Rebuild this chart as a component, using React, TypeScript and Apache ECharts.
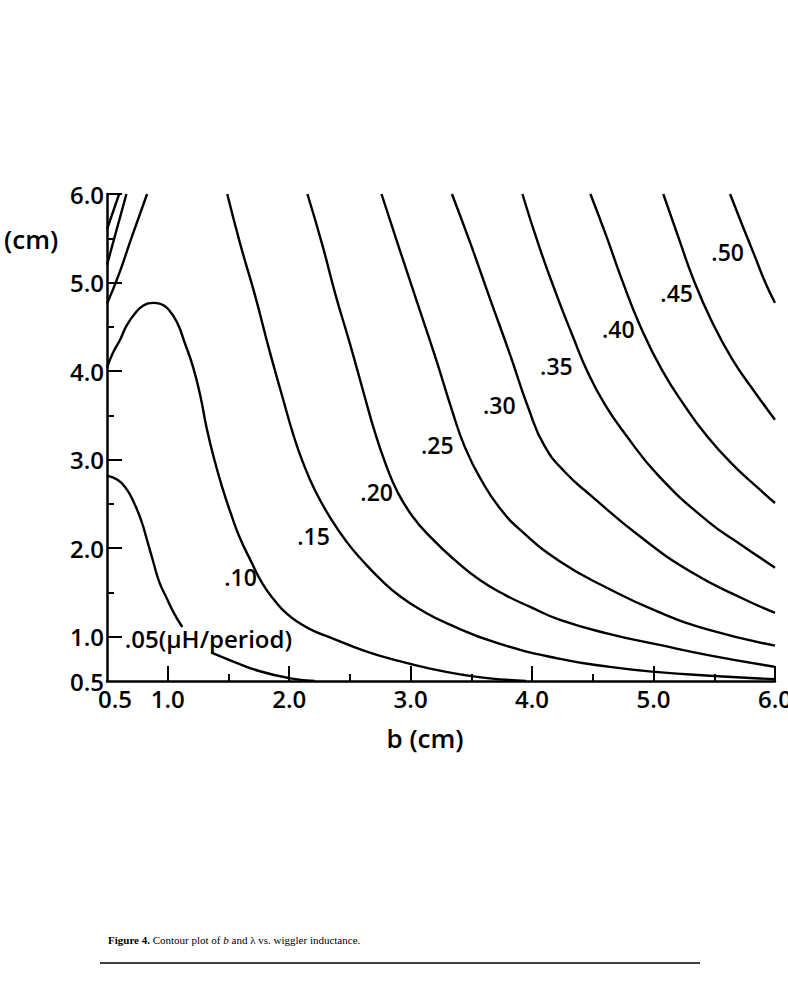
import React, { useEffect, useRef } from 'react';
import * as echarts from 'echarts';

// Axis ranges and ticks
const bMin = 0.5;
const bMax = 6.0;
const lMin = 0.5;
const lMax = 6.0;
const xMajorTicks = [1, 2, 3, 4, 5, 6];
const xMinorTicks = [1.5, 2.5, 3.5, 4.5, 5.5];
const xTickLabels = [0.5, 1, 2, 3, 4, 5, 6];
const yMajorTicks = [1, 2, 3, 4, 5, 6];
const yMinorTicks = [1.5, 2.5, 3.5, 4.5, 5.5];
const yTickLabels = [0.5, 1, 2, 3, 4, 5, 6];

// Contour lines: [b (cm), lambda (cm)]
const contour05Upper = [[0.5, 2.82], [0.59, 2.77], [0.66, 2.67], [0.72, 2.52], [0.78, 2.32], [0.83, 2.09], [0.88, 1.85], [0.93, 1.62], [0.99, 1.44], [1.05, 1.27], [1.12, 1.11]];
const contour05Lower = [[1.36, 0.82], [1.54, 0.72], [1.76, 0.61], [2.01, 0.53], [2.21, 0.5]];
const contour10 = [[0.5, 4.04], [0.55, 4.21], [0.61, 4.36], [0.66, 4.51], [0.73, 4.65], [0.8, 4.74], [0.88, 4.77], [0.94, 4.76], [1.01, 4.69], [1.08, 4.54], [1.14, 4.32], [1.21, 4.04], [1.27, 3.71], [1.32, 3.36], [1.38, 3.02], [1.45, 2.68], [1.52, 2.39], [1.59, 2.13], [1.69, 1.84], [1.78, 1.60], [1.88, 1.41], [1.98, 1.26], [2.09, 1.15], [2.21, 1.06], [2.34, 0.99], [2.62, 0.84], [2.89, 0.73], [3.16, 0.64], [3.43, 0.57], [3.65, 0.53], [3.95, 0.5]];
const contour15 = [[1.49, 6.0], [1.60, 5.42], [1.72, 4.85], [1.83, 4.27], [1.94, 3.73], [2.03, 3.30], [2.11, 2.98], [2.21, 2.66], [2.34, 2.34], [2.48, 2.06], [2.61, 1.85], [2.75, 1.65], [2.91, 1.46], [3.10, 1.29], [3.30, 1.15], [3.71, 0.93], [4.23, 0.75], [4.64, 0.66], [5.04, 0.60], [5.46, 0.56], [6.0, 0.52]];
const contour20 = [[2.15, 6.0], [2.27, 5.44], [2.38, 4.87], [2.5, 4.31], [2.61, 3.77], [2.71, 3.29], [2.80, 2.93], [2.89, 2.64], [3.01, 2.37], [3.16, 2.13], [3.36, 1.87], [3.57, 1.64], [3.78, 1.47], [3.98, 1.34], [4.23, 1.19], [4.64, 1.03], [5.04, 0.91], [5.46, 0.79], [6.0, 0.66]];
const contour25 = [[2.76, 6.0], [2.91, 5.37], [3.06, 4.75], [3.21, 4.13], [3.34, 3.56], [3.45, 3.13], [3.59, 2.75], [3.73, 2.46], [3.90, 2.21], [4.23, 1.85], [4.62, 1.55], [5.04, 1.28], [5.45, 1.08], [6.0, 0.90]];
const contour30 = [[3.34, 6.0], [3.49, 5.45], [3.65, 4.83], [3.82, 4.18], [3.97, 3.58], [4.10, 3.16], [4.27, 2.86], [4.48, 2.60], [4.90, 2.12], [5.31, 1.73], [5.72, 1.44], [6.0, 1.27]];
const contour35 = [[3.92, 6.0], [4.06, 5.40], [4.21, 4.83], [4.33, 4.41], [4.46, 3.98], [4.60, 3.62], [4.76, 3.30], [5.04, 2.82], [5.45, 2.30], [5.72, 2.04], [6.0, 1.78]];
const contour40 = [[4.48, 6.0], [4.61, 5.53], [4.74, 5.03], [4.89, 4.51], [5.07, 4.01], [5.27, 3.58], [5.42, 3.30], [5.64, 2.96], [5.86, 2.68], [6.0, 2.51]];
const contour45 = [[5.08, 6.0], [5.20, 5.53], [5.33, 5.03], [5.48, 4.56], [5.65, 4.13], [5.83, 3.77], [6.0, 3.45]];
const contour50 = [[5.63, 6.0], [5.73, 5.65], [5.83, 5.31], [5.92, 5.0], [6.0, 4.77]];
const cornerA = [[0.5, 5.6], [0.6, 6.0]];
const cornerB = [[0.5, 5.2], [0.58, 5.6], [0.66, 6.0]];
const cornerC = [[0.5, 4.76], [0.6, 5.1], [0.7, 5.5], [0.83, 6.0]];

const contourLines = [contour05Upper, contour05Lower, contour10, contour15, contour20, contour25, contour30, contour35, contour40, contour45, contour50, cornerA, cornerB, cornerC];

// Contour labels
const labelTexts = ['.05(\u03bcH/period)', '.10', '.15', '.20', '.25', '.30', '.35', '.40', '.45', '.50'];
const labelB = [0.67, 1.60, 2.20, 2.72, 3.22, 3.73, 4.20, 4.71, 5.19, 5.61];
const labelL = [0.98, 1.67, 2.14, 2.63, 3.16, 3.62, 4.06, 4.48, 4.88, 5.35];

const FONT = "'Open Sans', 'Noto Sans', sans-serif";
const INK = '#000';

export default function App() {
  const ref = useRef<HTMLDivElement>(null);
  useEffect(() => {
    if (!ref.current) return;
    const chart = echarts.init(ref.current, null, { renderer: 'svg' });

    const lineSeries = contourLines.map((d, i) => ({
      type: 'line',
      name: 'c' + i,
      data: d,
      smooth: 0.5,
      symbol: 'none',
      lineStyle: { color: INK, width: 2.4 },
      xAxisIndex: 0,
      yAxisIndex: 0,
      silent: true,
      z: 3,
    }));

    const labelData = labelTexts.map((t, i) => ({
      value: [labelB[i], labelL[i]],
      name: t,
      label: {
        show: true,
        formatter: t,
        position: 'right',
        distance: 0,
        align: i === 0 ? 'left' : 'center',
        verticalAlign: 'middle',
        offset: i === 0 ? [-3, 0] : [0, 0],
        fontSize: i === 0 ? 24 : 23,
        color: INK,
        opacity: 1,
        textBorderWidth: 0,
        fontWeight: 600,
      },
    }));

    const option = {
      animation: false,
      backgroundColor: '#ffffff',
      grid: { left: 107, right: 13, top: 194, bottom: 320, containLabel: false, outerBoundsMode: 'none' },
      xAxis: [
        {
          type: 'value',
          min: bMin,
          max: bMax,
          axisLine: { show: true, onZero: false, lineStyle: { color: INK, width: 2.5 } },
          axisTick: { show: true, inside: true, length: 15, customValues: xMajorTicks, lineStyle: { color: INK, width: 2 } },
          axisLabel: {
            show: true,
            customValues: xTickLabels,
            margin: 5,
            color: INK,
            fontFamily: FONT,
            fontSize: 24,
            fontWeight: 600,
            formatter: (v: number) => (v === 0.5 ? '{s|0.5}' : v.toFixed(1)),
            rich: { s: { fontFamily: FONT, fontSize: 24, fontWeight: 600, color: INK, padding: [0, 0, 0, 16] } },
          },
          splitLine: { show: false },
        },
        {
          type: 'value',
          min: bMin,
          max: bMax,
          position: 'bottom',
          axisLine: { show: false },
          axisTick: { show: true, inside: true, length: 7, customValues: xMinorTicks, lineStyle: { color: INK, width: 2 } },
          axisLabel: { show: false },
          splitLine: { show: false },
        },
      ],
      yAxis: [
        {
          type: 'value',
          min: lMin,
          max: lMax,
          axisLine: { show: true, onZero: false, lineStyle: { color: INK, width: 2.5 } },
          axisTick: { show: true, inside: true, length: 15, customValues: yMajorTicks, lineStyle: { color: INK, width: 2 } },
          axisLabel: {
            show: true,
            customValues: yTickLabels,
            margin: 3,
            color: INK,
            fontFamily: FONT,
            fontSize: 24,
            fontWeight: 600,
            padding: [8, 0, 0, 0],
            formatter: (v: number) => v.toFixed(1),
          },
          splitLine: { show: false },
        },
        {
          type: 'value',
          min: lMin,
          max: lMax,
          position: 'left',
          axisLine: { show: false },
          axisTick: { show: true, inside: true, length: 7, customValues: yMinorTicks, lineStyle: { color: INK, width: 2 } },
          axisLabel: { show: false },
          splitLine: { show: false },
        },
      ],
      series: [
        ...lineSeries,
        {
          type: 'scatter',
          data: labelData,
          symbolSize: 0,
          silent: true,
          itemStyle: { color: INK, opacity: 1 },
          label: { color: INK, fontFamily: FONT, fontSize: 23, opacity: 1 },
          z: 5,
        },
      ],
      graphic: [
        {
          type: 'text',
          left: 4,
          top: 226,
          style: { text: '(cm)', font: `600 26px ${FONT}`, fill: INK },
        },
        {
          type: 'text',
          x: 425,
          y: 738,
          style: { text: 'b (cm)', font: `600 26px ${FONT}`, fill: INK, align: 'center', verticalAlign: 'middle' },
        },
        {
          type: 'text',
          x: 108,
          y: 940,
          style: {
            text: '{bold|Figure 4.} Contour plot of {it|b} and \u03bb vs. wiggler inductance.',
            font: "11px 'Liberation Serif', serif",
            fill: INK,
            verticalAlign: 'middle',
            rich: {
              bold: { fontFamily: "'Liberation Serif', serif", fontSize: 11, fontWeight: 'bold', fill: INK },
              it: { fontFamily: "'Liberation Serif', serif", fontSize: 11, fontStyle: 'italic', fill: INK },
            },
          },
        },
        {
          type: 'line',
          shape: { x1: 100, y1: 963, x2: 700, y2: 963 },
          style: { stroke: INK, lineWidth: 1.5 },
        },
      ],
    };

    chart.setOption(option as any);
    return () => chart.dispose();
  }, []);

  return (
    <div
      ref={ref}
      style={{ position: 'fixed', left: 0, top: 0, width: 788, height: 1001, background: '#fff' }}
    />
  );
}
